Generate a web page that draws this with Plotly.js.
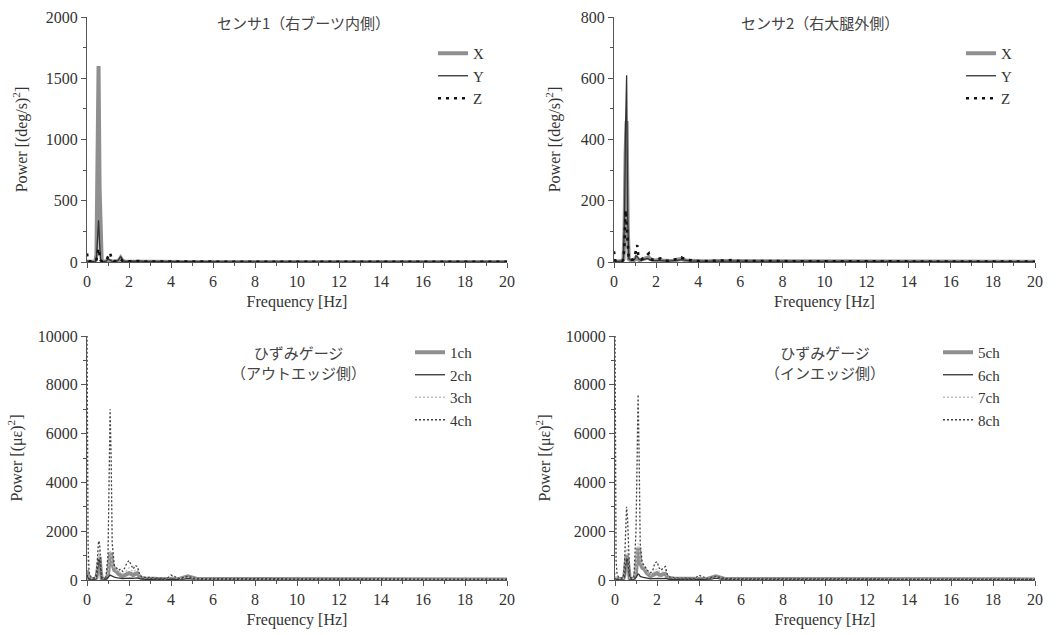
<!DOCTYPE html>
<html>
<head>
<meta charset="utf-8">
<script src="https://cdn.plot.ly/plotly-3.0.1.min.js"></script>
<style>html,body{margin:0;padding:0;background:#fff;}#chart{width:1059px;height:635px;}</style>
</head>
<body>
<div id="chart"></div>
<script>
// Frequency grid [Hz]
const freq = [0,0.05,0.1,0.2,0.3,0.4,0.45,0.5,0.55,0.6,0.65,0.7,0.8,0.9,1.0,1.05,1.1,1.15,1.2,1.3,1.4,1.5,1.6,1.65,1.7,1.8,1.9,2.0,2.1,2.2,2.3,2.4,2.5,2.6,2.8,3.0,3.2,3.4,3.6,3.8,4.0,4.4,4.8,5.2,5.6,6,7,8,9,10,11,12,13,14,15,16,17,18,19,20];

// Sensor 1 (right boot inner side) [(deg/s)^2]
const s1X = [5,3,2,2,2,5,60,700,1600,600,40,8,5,4,15,10,8,5,4,3,3,10,35,25,8,4,3,3,2,3,4,6,5,3,2,3,2,2,2,1,1,1,1,1,1,1,1,1,1,1,1,1,1,1,1,1,1,1,1,1];
const s1Y = [10,5,3,2,2,4,30,200,340,150,20,6,4,5,25,20,12,8,5,3,4,15,45,30,10,5,4,3,3,4,6,10,8,5,3,4,3,2,2,2,2,2,2,1,2,1,1,1,1,1,1,1,1,1,1,1,1,1,1,1];
const s1Z = [70,10,5,3,3,5,20,80,110,60,15,5,4,10,40,60,75,40,15,8,5,10,20,15,8,5,4,3,3,4,5,8,6,4,3,3,3,2,2,2,2,2,2,2,2,2,2,2,2,2,2,1,1,1,1,1,1,1,1,1];

// Sensor 2 (right thigh outer side) [(deg/s)^2]
const s2X = [5,3,2,2,2,3,10,100,350,460,120,10,5,4,8,15,12,8,6,8,10,12,14,15,10,6,5,5,6,8,5,4,3,3,4,6,10,5,4,3,3,2,3,3,3,2,2,2,2,2,1,1,1,1,1,1,1,1,1,1];
const s2Y = [8,4,3,2,2,3,15,150,450,610,150,12,6,5,10,20,18,10,8,6,8,10,12,10,7,5,5,6,5,6,5,4,4,3,3,5,8,5,4,3,3,2,2,2,2,2,2,2,1,1,1,1,1,1,1,1,1,1,1,1];
const s2Z = [35,5,3,2,2,3,10,60,170,120,40,10,6,8,25,40,55,25,15,8,12,18,25,28,15,8,6,8,10,12,8,5,4,4,6,10,15,8,6,4,3,3,4,5,6,3,3,2,2,2,2,2,2,2,1,1,1,1,1,1];

// Strain gauge, out-edge side [(με)^2]
const g1ch = [400,150,60,40,40,50,100,500,900,950,400,60,40,50,200,800,1050,1100,700,400,350,250,200,180,150,200,250,280,250,200,250,280,150,80,60,70,50,40,40,35,50,40,150,50,40,40,50,40,40,30,30,30,40,30,30,30,25,25,25,25];
const g2ch = [200,80,40,30,30,40,80,400,800,850,300,50,40,40,100,150,200,180,150,120,100,80,70,60,60,70,80,90,80,70,80,90,60,40,30,40,30,30,25,25,30,25,60,30,25,25,30,25,25,20,20,20,25,20,20,20,15,15,15,15];
const g3ch = [1000,300,100,60,60,80,150,600,1100,1200,500,100,60,80,300,900,1200,1000,600,500,400,350,300,280,250,300,400,500,400,350,400,450,200,100,80,90,60,50,50,50,150,50,120,50,40,40,50,40,40,30,30,30,40,30,30,30,25,25,25,25];
const g4ch = [10500,1500,300,100,80,100,300,1000,1600,1500,600,100,80,100,1000,4000,7000,5000,1500,600,500,400,450,400,350,500,700,800,600,450,600,550,250,120,100,110,80,60,60,60,200,60,150,60,50,50,60,50,50,40,40,40,50,40,40,40,30,30,30,30];

// Strain gauge, in-edge side [(με)^2]
const g5ch = [80,50,40,40,40,50,200,700,1000,900,300,50,40,50,300,1100,1300,1200,700,500,450,300,200,150,150,200,250,280,220,200,250,250,120,80,60,60,50,40,40,40,60,40,150,50,40,40,50,40,40,30,30,30,40,30,30,30,25,25,25,25];
const g6ch = [60,40,30,30,30,40,150,600,900,850,250,40,30,40,100,200,250,220,150,120,100,80,60,50,50,60,70,80,70,60,70,70,50,30,30,30,25,25,25,25,30,25,80,30,25,25,30,25,25,20,20,20,25,20,20,20,15,15,15,15];
const g7ch = [300,100,60,50,50,60,300,900,1300,1200,400,70,50,70,500,1300,1500,1300,800,600,500,350,250,200,200,250,400,450,350,300,350,400,150,100,70,70,60,50,50,50,150,50,120,50,40,40,50,40,40,30,30,30,40,30,30,30,25,25,25,25];
const g8ch = [10500,800,200,100,80,120,600,2200,3000,2500,800,120,80,120,2000,6000,7600,5000,1500,700,600,450,350,300,300,400,700,750,500,400,500,550,200,120,90,90,70,60,60,60,200,60,150,60,50,50,60,50,50,40,40,40,50,40,40,40,30,30,30,30];

const panelTitles = ["センサ1（右ブーツ内側）", "センサ2（右大腿外側）", "ひずみゲージ<br>（アウトエッジ側）", "ひずみゲージ<br>（インエッジ側）"];
const seriesNames1 = ["X", "Y", "Z"];
const seriesNames3 = ["1ch", "2ch", "3ch", "4ch"];
const seriesNames4 = ["5ch", "6ch", "7ch", "8ch"];

const SERIF = "'Liberation Serif', 'Times New Roman', serif";
const CJK = "'Noto Sans CJK JP', 'Liberation Serif', serif";

const styleThickGrey = {color: "#8f8f8f", width: 4, dash: "solid"};
const styleThinDark = {color: "#333333", width: 1.3, dash: "solid"};
const styleBigDots = {color: "#111", width: 2.6, dash: "3px,5px"};
const styleLightDots = {color: "#bdbdbd", width: 1.3, dash: "2px,2px"};
const styleDarkDots = {color: "#404040", width: 1.3, dash: "2px,2px"};

function tr(y, name, line, xa, ya, lg) {
  return {x: freq, y: y, name: name, type: "scatter", mode: "lines", line: line,
          xaxis: xa, yaxis: ya, legend: lg, hoverinfo: "x+y+name"};
}

const data = [
  tr(s1X, seriesNames1[0], styleThickGrey, "x", "y", "legend"),
  tr(s1Y, seriesNames1[1], styleThinDark, "x", "y", "legend"),
  tr(s1Z, seriesNames1[2], styleBigDots, "x", "y", "legend"),
  tr(s2X, seriesNames1[0], styleThickGrey, "x2", "y2", "legend2"),
  tr(s2Y, seriesNames1[1], styleThinDark, "x2", "y2", "legend2"),
  tr(s2Z, seriesNames1[2], styleBigDots, "x2", "y2", "legend2"),
  tr(g1ch, seriesNames3[0], styleThickGrey, "x3", "y3", "legend3"),
  tr(g2ch, seriesNames3[1], styleThinDark, "x3", "y3", "legend3"),
  tr(g3ch, seriesNames3[2], styleLightDots, "x3", "y3", "legend3"),
  tr(g4ch, seriesNames3[3], styleDarkDots, "x3", "y3", "legend3"),
  tr(g5ch, seriesNames4[0], styleThickGrey, "x4", "y4", "legend4"),
  tr(g6ch, seriesNames4[1], styleThinDark, "x4", "y4", "legend4"),
  tr(g7ch, seriesNames4[2], styleLightDots, "x4", "y4", "legend4"),
  tr(g8ch, seriesNames4[3], styleDarkDots, "x4", "y4", "legend4")
];

const W = 1059, H = 635;
const px = v => v / W;
const py = v => 1 - v / H;

function xax(domL, domR, anchor) {
  return {domain: [px(domL), px(domR)], anchor: anchor, range: [0, 20], dtick: 2, tick0: 0,
          showline: true, linecolor: "#555", linewidth: 1, ticks: "outside", ticklen: 5, tickcolor: "#555",
          minor: {dtick: 1, ticks: "outside", ticklen: 3, tickcolor: "#555"},
          showgrid: false, zeroline: false, tickfont: {family: SERIF, size: 16, color: "#333"},
          title: {text: "Frequency [Hz]", font: {family: SERIF, size: 16, color: "#333"}, standoff: 6}};
}
function yax(domB, domT, anchor, maxV, dt, ttl, so) {
  return {domain: [py(domB), py(domT)], anchor: anchor, range: [0, maxV], dtick: dt, tick0: 0,
          showline: true, linecolor: "#555", linewidth: 1, ticks: "outside", ticklen: 5, tickcolor: "#555",
          minor: {dtick: dt / 2, ticks: "outside", ticklen: 3, tickcolor: "#555"},
          tickformat: "d", separatethousands: false,
          showgrid: false, zeroline: false, tickfont: {family: SERIF, size: 16, color: "#333"},
          title: {text: ttl, font: {family: SERIF, size: 16, color: "#333"}, standoff: so}};
}
function leg(xl, yt) {
  return {x: px(xl), y: py(yt), xanchor: "left", yanchor: "top", xref: "paper", yref: "paper",
          bgcolor: "rgba(0,0,0,0)", borderwidth: 0, itemwidth: 30, tracegroupgap: 0,
          font: {family: SERIF, size: 15, color: "#333"}};
}
function ann(text, x, y) {
  return {text: text, x: px(x), y: py(y), xref: "paper", yref: "paper", xanchor: "center", yanchor: "middle",
          showarrow: false, align: "center", font: {family: CJK, size: 15, color: "#444"}};
}

const layout = {
  width: W, height: H, margin: {l: 0, r: 0, t: 0, b: 0},
  paper_bgcolor: "#fff", plot_bgcolor: "#fff", showlegend: true,
  xaxis: xax(87, 507, "y"), yaxis: yax(262, 17, "x", 2000, 500, "Power [(deg/s)<sup>2</sup>]", 14),
  xaxis2: xax(614, 1035, "y2"), yaxis2: yax(262, 17, "x2", 800, 200, "Power [(deg/s)<sup>2</sup>]", 16),
  xaxis3: xax(87, 507, "y3"), yaxis3: yax(580, 336, "x3", 10000, 2000, "Power [(με)<sup>2</sup>]", 11),
  xaxis4: xax(615, 1035, "y4"), yaxis4: yax(580, 336, "x4", 10000, 2000, "Power [(με)<sup>2</sup>]", 11),
  legend: leg(433, 37), legend2: leg(961, 37), legend3: leg(410, 336), legend4: leg(938, 336),
  annotations: [
    ann(panelTitles[0], 303, 23),
    ann(panelTitles[1], 820, 23),
    ann(panelTitles[2], 298, 362),
    ann(panelTitles[3], 825, 362)
  ]
};

Plotly.newPlot("chart", data, layout, {displayModeBar: false, staticPlot: true});
</script>
</body>
</html>
